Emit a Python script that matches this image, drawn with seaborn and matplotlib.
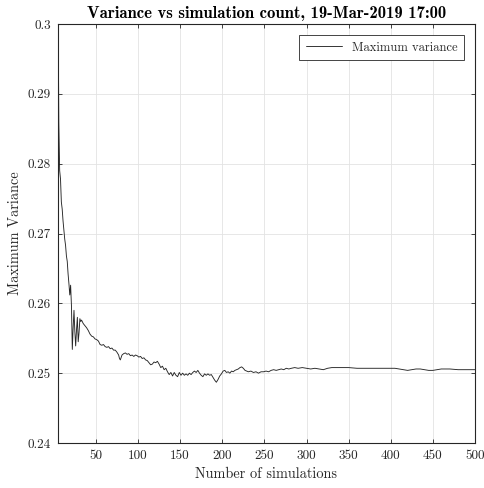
import matplotlib
matplotlib.use("Agg")
import matplotlib.pyplot as plt
import seaborn as sns
import pandas as pd

# values
sims = [5, 6, 7, 8, 9, 10, 11, 12, 13, 14, 15, 16, 17, 18, 19, 20, 21, 22, 23, 24,
        25, 26, 27, 28, 29, 30, 31, 32, 33, 35, 37, 39, 41, 43, 45, 47, 49, 51, 53, 55,
        57, 59, 61, 63, 65, 67, 69, 71, 73, 75, 77, 78, 79, 81, 83, 85, 87, 89, 91, 93,
        95, 97, 99, 101, 103, 105, 107, 109, 111, 113, 115, 117, 119, 121, 123, 125, 127, 129, 131, 133,
        135, 137, 139, 141, 143, 145, 147, 149, 151, 153, 155, 157, 159, 161, 163, 165, 167, 169, 171, 173,
        175, 177, 179, 181, 183, 185, 187, 189, 191, 193, 195, 197, 199, 201, 203, 205, 207, 209, 211, 213,
        215, 217, 219, 221, 223, 225, 227, 229, 231, 234, 237, 240, 243, 246, 249, 252, 255, 258, 261, 264,
        267, 270, 273, 276, 279, 282, 286, 290, 295, 300, 305, 310, 315, 320, 325, 330, 340, 350, 360, 370,
        380, 390, 400, 405, 410, 415, 420, 425, 430, 435, 440, 445, 450, 455, 460, 470, 480, 490, 500]
variance = [0.3045, 0.2858, 0.2790, 0.2778, 0.2745, 0.2735, 0.2718, 0.2705, 0.2692, 0.2683,
            0.2668, 0.2660, 0.2642, 0.2628, 0.2612, 0.2626, 0.2596, 0.2534, 0.2565, 0.2590,
            0.2560, 0.2539, 0.2562, 0.2580, 0.2545, 0.2558, 0.2578, 0.2574, 0.2576, 0.2571,
            0.2568, 0.2565, 0.2561, 0.2556, 0.2553, 0.2552, 0.2549, 0.2548, 0.2546, 0.2541,
            0.2540, 0.2541, 0.2538, 0.2537, 0.2538, 0.2535, 0.2536, 0.2533, 0.2533, 0.2530,
            0.2526, 0.2521, 0.2519, 0.2526, 0.2528, 0.2529, 0.2527, 0.2528, 0.2525, 0.2526,
            0.2524, 0.2526, 0.2525, 0.2523, 0.2524, 0.2521, 0.2522, 0.2519, 0.2518, 0.2515,
            0.2512, 0.2513, 0.2516, 0.2515, 0.2517, 0.2513, 0.2508, 0.2510, 0.2505, 0.2507,
            0.2502, 0.2498, 0.2501, 0.2496, 0.2501, 0.2497, 0.2495, 0.2501, 0.2497, 0.2500,
            0.2497, 0.2499, 0.2497, 0.2500, 0.2498, 0.2501, 0.2503, 0.2501, 0.2504, 0.2500,
            0.2497, 0.2495, 0.2499, 0.2497, 0.2499, 0.2497, 0.2498, 0.2494, 0.2490, 0.2487,
            0.2491, 0.2496, 0.2499, 0.2503, 0.2504, 0.2501, 0.2502, 0.2500, 0.2503, 0.2502,
            0.2504, 0.2505, 0.2506, 0.2508, 0.2509, 0.2507, 0.2504, 0.2503, 0.2502, 0.2503,
            0.2501, 0.2502, 0.2500, 0.2502, 0.2502, 0.2503, 0.2502, 0.2504, 0.2505, 0.2504,
            0.2505, 0.2506, 0.2505, 0.2507, 0.2506, 0.2507, 0.2508, 0.2507, 0.2508, 0.2507,
            0.2506, 0.2507, 0.2506, 0.2505, 0.2507, 0.2508, 0.2508, 0.2508, 0.2507, 0.2507,
            0.2507, 0.2507, 0.2507, 0.2507, 0.2506, 0.2505, 0.2504, 0.2505, 0.2506, 0.2506,
            0.2505, 0.2504, 0.2504, 0.2505, 0.2506, 0.2506, 0.2505, 0.2505, 0.2505]

x_ticks = [50, 100, 150, 200, 250, 300, 350, 400, 450, 500]
y_ticks = [0.24, 0.25, 0.26, 0.27, 0.28, 0.29, 0.3]
y_tick_labels = ["0.24", "0.25", "0.26", "0.27", "0.28", "0.29", "0.3"]

df = pd.DataFrame({"sims": sims, "variance": variance})

sns.set_theme(style="whitegrid")
plt.rcParams["font.family"] = ["cmr10", "DejaVu Serif"]
plt.rcParams["axes.formatter.use_mathtext"] = True
plt.rcParams["mathtext.fontset"] = "cm"

fig = plt.figure(figsize=(4.84, 4.88), dpi=100)
ax = fig.add_axes([0.1198, 0.0922, 0.8616, 0.8586])

sns.lineplot(data=df, x="sims", y="variance", ax=ax, color="#262626",
             linewidth=0.65, label="Maximum variance")

ax.set_xlim(5, 500)
ax.set_ylim(0.24, 0.3)
ax.set_xticks(x_ticks)
ax.set_xticklabels([str(t) for t in x_ticks])
ax.set_yticks(y_ticks)
ax.set_yticklabels(y_tick_labels)

ax.grid(True, color="#e3e3e3", linewidth=0.6)
for s in ax.spines.values():
    s.set_visible(True)
    s.set_color("#262626")
    s.set_linewidth(0.8)
ax.set_facecolor("white")
ax.tick_params(axis="both", which="major", direction="in", length=3, width=0.6,
               color="#262626", labelsize=9.5, labelcolor="#262626",
               top=True, right=True, bottom=True, left=True, pad=5)

ax.set_xlabel("Number of simulations", fontsize=10.3, color="#262626")
ax.set_ylabel("Maximum Variance", fontsize=10.3, color="#262626")
ax.set_title("Variance vs simulation count, 19-Mar-2019 17:00",
             fontsize=12, fontfamily="cmb10", color="#000000", pad=4)

leg = ax.legend(loc="upper right", fontsize=9, frameon=True, fancybox=False,
                edgecolor="#262626", framealpha=1, handlelength=2.9,
                borderpad=0.5, borderaxespad=0.9)
leg.get_frame().set_linewidth(0.6)

fig.savefig("out.png", dpi=100)
